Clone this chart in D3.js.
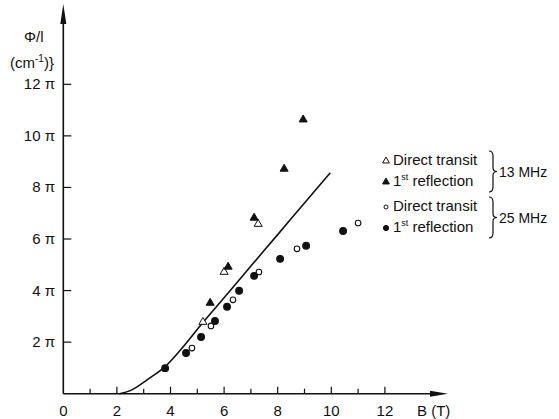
<!DOCTYPE html>
<html>
<head>
<meta charset="utf-8">
<script src="https://cdn.jsdelivr.net/npm/d3@7"></script>
<style>
  body { margin: 0; background: #fff; }
  text { font-family: "Liberation Sans", "DejaVu Sans", sans-serif; fill: #111; }
</style>
</head>
<body>
<div id="chart"></div>
<script>
// data (B in tesla, phase in units of pi)
const xTicks = [0, 2, 4, 6, 8, 10, 12];
const xMinor = [1, 3, 5, 7, 9, 11];
const yTicks = [2, 4, 6, 8, 10, 12];

const tri13Open = [[5.21, 2.78], [6.0, 4.72], [7.27, 6.58]];
const tri13Fill = [[5.48, 3.52], [6.15, 4.92], [7.12, 6.82], [8.24, 8.72], [8.95, 10.63]];
const circ25Open = [[4.80, 1.77], [5.51, 2.63], [6.33, 3.64], [7.30, 4.72], [8.72, 5.62], [11.0, 6.62]];
const circ25Fill = [[3.80, 0.99], [4.58, 1.58], [5.14, 2.20], [5.66, 2.82], [6.11, 3.37], [6.56, 3.99],
                    [7.12, 4.57], [8.09, 5.23], [9.06, 5.74], [10.44, 6.31]];
const theoryB = [2.1, 2.5, 2.86, 3.1, 3.8, 4.5, 5.2, 6, 7, 8, 9, 9.96];
const theoryPhi = [0, 0.12, 0.34, 0.52, 1.05, 1.85, 2.75, 3.72, 4.95, 6.17, 7.4, 8.57];

const W = 559, H = 419;
const svg = d3.select("#chart").append("svg")
  .attr("width", W).attr("height", H);

const x = d3.scaleLinear().domain([0, 12]).range([63.3, 384.9]);
const y = d3.scaleLinear().domain([0, 12]).range([393.7, 84.3]);

const ax = svg.append("g").attr("stroke", "#111").attr("fill", "none");

// axes with arrow heads
ax.append("line").attr("x1", x(0)).attr("x2", 440).attr("y1", y(0)).attr("y2", y(0)).attr("stroke-width", 1.6);
ax.append("line").attr("x1", x(0)).attr("x2", x(0)).attr("y1", y(0)).attr("y2", 12).attr("stroke-width", 1.6);
svg.append("path").attr("fill", "#111")
  .attr("d", `M${x(0)},4 L${x(0) - 3},24 L${x(0) + 3},24 Z`);
svg.append("path").attr("fill", "#111")
  .attr("d", `M448,${y(0)} L430,${y(0) - 3} L430,${y(0) + 3} Z`);

// x ticks
ax.selectAll(".xt").data(xTicks.slice(1)).join("line")
  .attr("x1", d => x(d)).attr("x2", d => x(d))
  .attr("y1", y(0)).attr("y2", y(0) - 7).attr("stroke-width", 1.2);
ax.selectAll(".xm").data(xMinor).join("line")
  .attr("x1", d => x(d)).attr("x2", d => x(d))
  .attr("y1", y(0)).attr("y2", y(0) - 5).attr("stroke-width", 1.2);
svg.selectAll(".xl").data(xTicks).join("text")
  .attr("x", d => x(d)).attr("y", 416)
  .attr("text-anchor", "middle").attr("font-size", 15)
  .text(d => d);
svg.append("text").attr("x", 417).attr("y", 416).attr("font-size", 15).text("B (T)");

// y ticks
ax.selectAll(".yt").data(yTicks).join("line")
  .attr("x1", x(0)).attr("x2", x(0) + 8)
  .attr("y1", d => y(d)).attr("y2", d => y(d)).attr("stroke-width", 1.2);
svg.selectAll(".yl").data(yTicks).join("text")
  .attr("x", 55).attr("y", d => y(d) + 5)
  .attr("text-anchor", "end").attr("font-size", 15)
  .text(d => d + " \u03c0");

// y label
svg.append("text").attr("x", 24).attr("y", 42).attr("font-size", 15).text("\u03a6/l");
const yl = svg.append("text").attr("x", 10).attr("y", 68).attr("font-size", 15);
yl.append("tspan").text("(cm");
yl.append("tspan").attr("font-size", 10).attr("dy", -6).text("-1");
yl.append("tspan").attr("dy", 6).text(")}");

// theory curve
const theory = theoryB.map((b, i) => [b, theoryPhi[i]]);
svg.append("path").datum(theory)
  .attr("fill", "none").attr("stroke", "#111").attr("stroke-width", 1.6)
  .attr("d", d3.line().x(d => x(d[0])).y(d => y(d[1])).curve(d3.curveMonotoneX));

// markers
const triUp = d3.symbol().type(d3.symbolTriangle).size(28);
function drawTri(data, filled) {
  svg.append("g").selectAll("path").data(data).join("path")
    .attr("transform", d => `translate(${x(d[0])},${y(d[1])})`)
    .attr("d", triUp)
    .attr("fill", filled ? "#111" : "#fff")
    .attr("stroke", "#111").attr("stroke-width", 1);
}
function drawCirc(data, filled) {
  svg.append("g").selectAll("circle").data(data).join("circle")
    .attr("cx", d => x(d[0])).attr("cy", d => y(d[1]))
    .attr("r", filled ? 3.4 : 2.8)
    .attr("fill", filled ? "#111" : "#fff")
    .attr("stroke", "#111").attr("stroke-width", 1.1);
}
drawTri(tri13Open, false);
drawTri(tri13Fill, true);
drawCirc(circ25Open, false);
drawCirc(circ25Fill, true);

// legend
const legendRows = [
  {y: 165, kind: "tri", filled: false, label: "Direct transit"},
  {y: 186, kind: "tri", filled: true, label: "1st"},
  {y: 211, kind: "circ", filled: false, label: "Direct transit"},
  {y: 232, kind: "circ", filled: true, label: "1st"}
];
const lg = svg.append("g");
legendRows.forEach(r => {
  if (r.kind === "tri") {
    lg.append("path").attr("transform", `translate(386,${r.y - 4})`)
      .attr("d", d3.symbol().type(d3.symbolTriangle).size(20))
      .attr("fill", r.filled ? "#111" : "#fff").attr("stroke", "#111").attr("stroke-width", 1);
  } else {
    lg.append("circle").attr("cx", 386).attr("cy", r.y - 4).attr("r", r.filled ? 2.6 : 2)
      .attr("fill", r.filled ? "#111" : "#fff").attr("stroke", "#111").attr("stroke-width", 1);
  }
  const t = lg.append("text").attr("x", 393).attr("y", r.y).attr("font-size", 15);
  if (r.label === "1st") {
    t.append("tspan").text("1");
    t.append("tspan").attr("font-size", 9).attr("dy", -6).text("st");
    t.append("tspan").attr("dy", 6).text(" reflection");
  } else {
    t.text(r.label);
  }
});
const braces = [{y0: 151, y1: 192, label: "13 MHz"}, {y0: 197, y1: 238, label: "25 MHz"}];
braces.forEach(b => {
  const m = (b.y0 + b.y1) / 2, bx = 489;
  lg.append("path").attr("fill", "none").attr("stroke", "#111").attr("stroke-width", 1.2)
    .attr("d", `M${bx},${b.y0} Q${bx + 4},${b.y0} ${bx + 4},${b.y0 + 5} L${bx + 4},${m - 4} Q${bx + 4},${m} ${bx + 8},${m}` +
               ` Q${bx + 4},${m} ${bx + 4},${m + 4} L${bx + 4},${b.y1 - 5} Q${bx + 4},${b.y1} ${bx},${b.y1}`);
  lg.append("text").attr("x", 499).attr("y", m + 5).attr("font-size", 14).text(b.label);
});
</script>
</body>
</html>
